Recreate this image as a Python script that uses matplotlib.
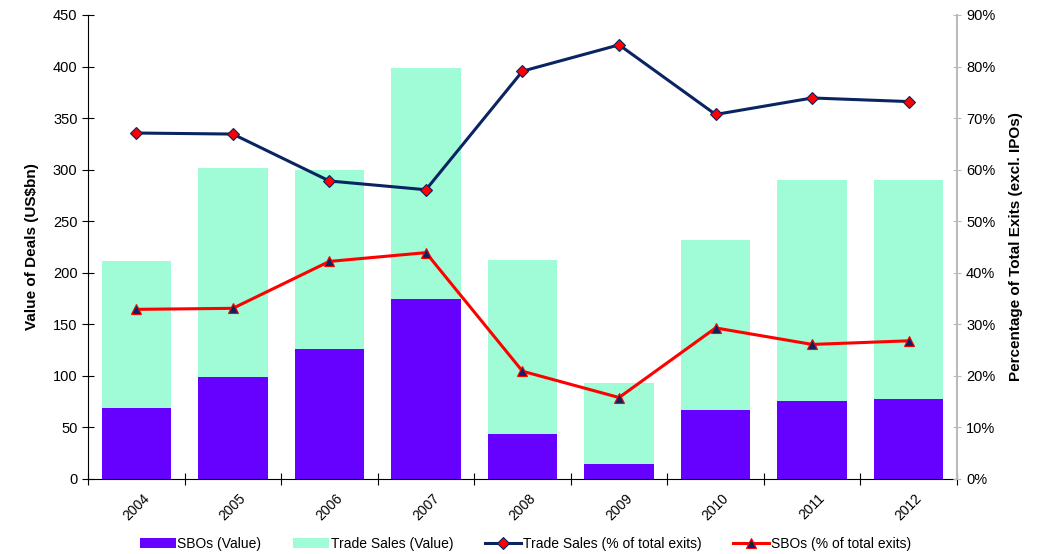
import matplotlib
matplotlib.use('Agg')
import matplotlib.pyplot as plt
import numpy as np
from matplotlib.ticker import PercentFormatter

plt.rcParams['font.family'] = ['Liberation Sans', 'DejaVu Sans']

# datos
years = ['2004', '2005', '2006', '2007', '2008', '2009', '2010', '2011', '2012']
sbo_value = [69, 99, 126, 175, 44, 14.5, 67, 76, 78]
trade_value = [142, 203, 174, 224, 168, 79, 165, 214, 212]
trade_pct = [67.1, 66.9, 57.8, 56.1, 79.1, 84.2, 70.7, 73.9, 73.2]
sbo_pct = [32.9, 33.1, 42.2, 43.9, 20.9, 15.8, 29.3, 26.1, 26.8]

x = np.arange(len(years))

fig = plt.figure(figsize=(10.4, 5.54), dpi=100)
ax = fig.add_axes([0.0846, 0.1354, 0.8356, 0.8376])
ax2 = ax.twinx()

b1 = ax.bar(x, sbo_value, width=0.72, color='#6600FF', label='SBOs (Value)')
b2 = ax.bar(x, trade_value, width=0.72, bottom=sbo_value, color='#A0FCD6', label='Trade Sales (Value)')

l1, = ax2.plot(x, trade_pct, color='#0A2463', lw=2.2, marker='D', ms=6,
               mfc='#FF0000', mec='#0A2463', mew=0.8, label='Trade Sales (% of total exits)')
l2, = ax2.plot(x, sbo_pct, color='#FF0000', lw=2.2, marker='^', ms=7,
               mfc='#0A2463', mec='#FF0000', mew=0.8, label='SBOs (% of total exits)')

ax.set_xlim(-0.5, len(years) - 0.5)
ax.set_ylim(0, 450)
ax.set_yticks(np.arange(0, 451, 50))
ax2.set_ylim(0, 90)
ax2.set_yticks(np.arange(0, 91, 10))
ax2.yaxis.set_major_formatter(PercentFormatter(decimals=0))

# ticks entre categorias, etiquetas en el centro
ax.set_xticks(np.arange(-0.5, len(years), 1))
ax.set_xticklabels([])
ax.set_xticks(x, minor=True)
ax.set_xticklabels(years, minor=True, rotation=45, fontsize=10)
ax.tick_params(axis='x', which='minor', length=0, pad=9)
ax.tick_params(axis='x', which='major', direction='inout', length=8)
ax.tick_params(axis='y', direction='inout', length=8, labelsize=10.5)
ax2.tick_params(axis='y', direction='inout', length=6, labelsize=10.5, color='#BBBBBB')

ax.spines['top'].set_visible(False)
ax2.spines['top'].set_visible(False)
ax.spines['right'].set_visible(False)
ax2.spines['left'].set_visible(False)
ax2.spines['bottom'].set_visible(False)
ax2.spines['right'].set_color('#BBBBBB')
ax2.spines['right'].set_linewidth(1.5)

ax.set_ylabel('Value of Deals (US$bn)', fontsize=11, fontweight='bold', labelpad=10)
ax2.set_ylabel('Percentage of Total Exits (excl. IPOs)', fontsize=11, fontweight='bold', labelpad=10)

fig.legend([b1, b2, l1, l2], [b1.get_label(), b2.get_label(), l1.get_label(), l2.get_label()],
           loc='center', bbox_to_anchor=(0.505, 0.018), ncol=4, frameon=False, fontsize=10,
           handlelength=2.6, columnspacing=2.3, handletextpad=0.1)

fig.savefig('out.png', dpi=100)
